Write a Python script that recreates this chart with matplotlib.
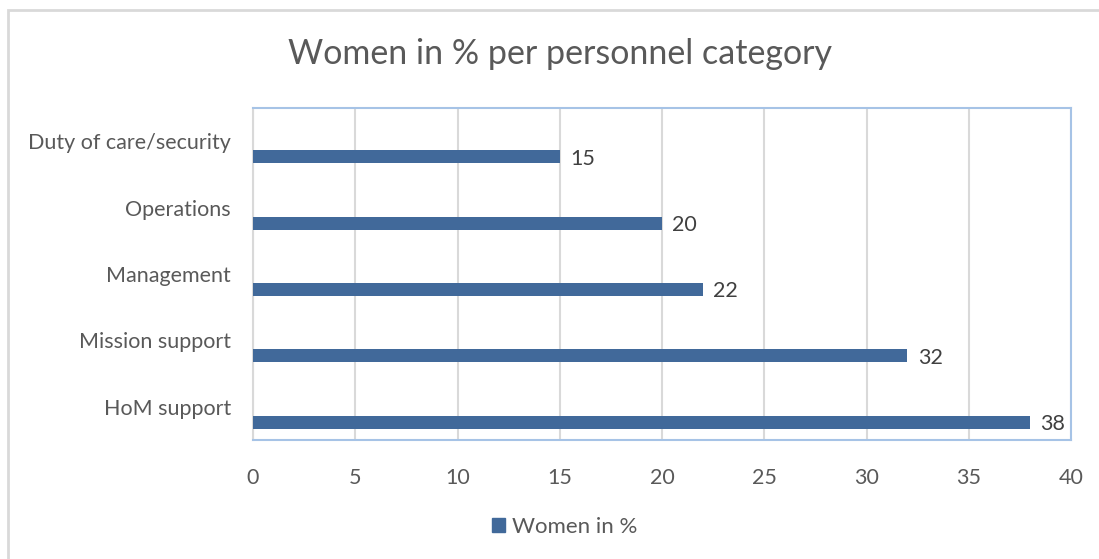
import numpy as np
import matplotlib.pyplot as plt
from matplotlib.patches import Rectangle

# chart data, top to bottom as shown
categories = ["Duty of care/security", "Operations", "Management", "Mission support", "HoM support"]
women_pct = [15, 20, 22, 32, 38]
x_ticks = [0, 5, 10, 15, 20, 25, 30, 35, 40]
series_name = "Women in %"

bar_color = "#41699A"
text_color = "#595959"
grid_color = "#D9D9D9"
frame_color = "#A6C3E6"

plt.rcParams['font.family'] = ['Lato', 'DejaVu Sans']

fig = plt.figure(figsize=(10.99, 5.59), dpi=100)
ax = fig.add_axes([253 / 1099, 1 - 440 / 559, 818 / 1099, 332 / 559])

# outer chart border (cut off at right and bottom like the screenshot)
fig.patches.append(Rectangle((8 / 1099, -0.05), 1.2, 1 - 10 / 559 + 0.05,
                             transform=fig.transFigure, fill=False,
                             edgecolor=grid_color, linewidth=2))

pos = np.arange(len(categories))
offset = 0.233  # bars sit in the lower part of each slot
bars = ax.barh(pos + offset, women_pct, height=0.196, color=bar_color, zorder=3)

for b, v in zip(bars, women_pct):
    ax.text(v + 0.5, b.get_y() + b.get_height() / 2 + 0.03, str(v),
            va='center', ha='left', fontsize=15.5, color="#404040", zorder=4)

ax.set_xlim(0, 40)
ax.set_ylim(len(categories) - 0.5, -0.5)
ax.set_xticks(x_ticks)
ax.set_yticks(pos)
ax.set_yticklabels(categories)
ax.tick_params(axis='both', length=0, labelsize=15.5, colors=text_color)
ax.tick_params(axis='x', pad=20)
ax.tick_params(axis='y', pad=16)
ax.xaxis.grid(True, color=grid_color, linewidth=1.5, zorder=0)
ax.set_axisbelow(True)

for side in ['top', 'right', 'bottom']:
    ax.spines[side].set_color(frame_color)
    ax.spines[side].set_linewidth(1.5)
ax.spines['left'].set_color(grid_color)
ax.spines['left'].set_linewidth(1.5)

fig.text(560 / 1099, 1 - 54 / 559, "Women in % per personnel category",
         ha='center', va='center', fontsize=24.5, color=text_color)

leg = fig.legend(handles=[Rectangle((0, 0), 1, 1, color=bar_color)], labels=[series_name],
                 loc='center', bbox_to_anchor=(565 / 1099, 1 - 527 / 559), frameon=False,
                 fontsize=16, handlelength=0.55, handleheight=0.55, handletextpad=0.35,
                 labelcolor=text_color)

fig.savefig("out.png", dpi=100)
